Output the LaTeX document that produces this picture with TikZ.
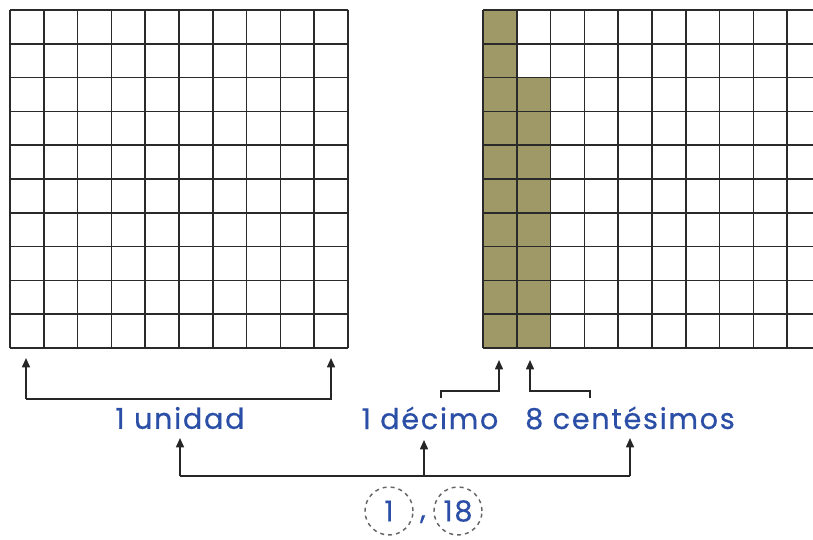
\documentclass[tikz,border=0pt]{standalone}
\usepackage{fontspec}
\setmainfont{Poppins}
\newfontfamily\lblfont{Poppins}[FakeBold=0.6,LetterSpace=6]
\usetikzlibrary{arrows.meta}
\definecolor{olive}{HTML}{9E9966}
\definecolor{txtblue}{HTML}{2B4FA6}
\definecolor{gridc}{HTML}{2A2A2A}
\tikzset{
  gridline/.style={draw=gridc,line width=1.3pt},
  conn/.style={draw=black!85,line width=1.2pt},
  arr/.style={conn,-{Triangle[length=7pt,width=6pt]}},
  lbl/.style={text=txtblue,font=\lblfont\fontsize{21.5}{24}\selectfont,inner sep=1pt},
  circ/.style={circle,draw=black!60,dashed,line width=1.1pt,minimum size=36pt,inner sep=0pt,text=txtblue,font=\lblfont\fontsize{21.5}{24}\selectfont}
}
\begin{document}
\begin{tikzpicture}[x=0.75pt,y=-0.75pt]
\useasboundingbox (0,0) rectangle (813,539);
% left grid
\foreach \i in {0,...,10}{
  \draw[gridline] ({10+\i*33.8},10) -- ({10+\i*33.8},348);
  \draw[gridline] (10,{10+\i*33.8}) -- (348,{10+\i*33.8});
}
% right grid
\begin{scope}
\clip (470,0) rectangle (813,539);
\fill[olive] (483,10) rectangle (516.8,348);
\fill[olive] (516.8,77.6) rectangle (550.6,348);
\foreach \i in {0,...,10}{
  \draw[gridline] ({483+\i*33.8},10) -- ({483+\i*33.8},348);
  \draw[gridline] (483,{10+\i*33.8}) -- (830,{10+\i*33.8});
}
\end{scope}
% labels
\node[lbl] (unidad) at (180,418) {1 unidad};
\node[lbl] (decimo) at (430,418) {1 décimo};
\node[lbl] (cent) at (630,418) {8 centésimos};
\node[circ] (c1) at (389,511) {1};
\node[circ] (c18) at (458,511) {18};
\node[lbl,anchor=base] (comma) at (423,519) {,};
% grid ends
\coordinate (ul) at (26,358);
\coordinate (ur) at (331,358);
\coordinate (td) at (499,360);
\coordinate (tc) at (530,360);
% unidad bracket
\draw[arr] (26,399) -- (ul);
\draw[arr] (26,399) -- (331,399) -- (ur);
% decimo / centesimos brackets
\coordinate (dl) at (441,398);
\coordinate (cr) at (590,398);
\draw[arr] (dl) -- (441,391) -- (499,391) -- (td);
\draw[arr] (cr) -- (590,391) -- (530,391) -- (tc);
% bottom bracket
\coordinate (bl) at (180,476);
\coordinate (bm) at (424,476);
\coordinate (br) at (630,476);
\draw[conn] (bl) -- (br);
\draw[arr] (bl) -- (180,438);
\draw[arr] (bm) -- (424,440);
\draw[arr] (br) -- (630,438);
\end{tikzpicture}
\end{document}
